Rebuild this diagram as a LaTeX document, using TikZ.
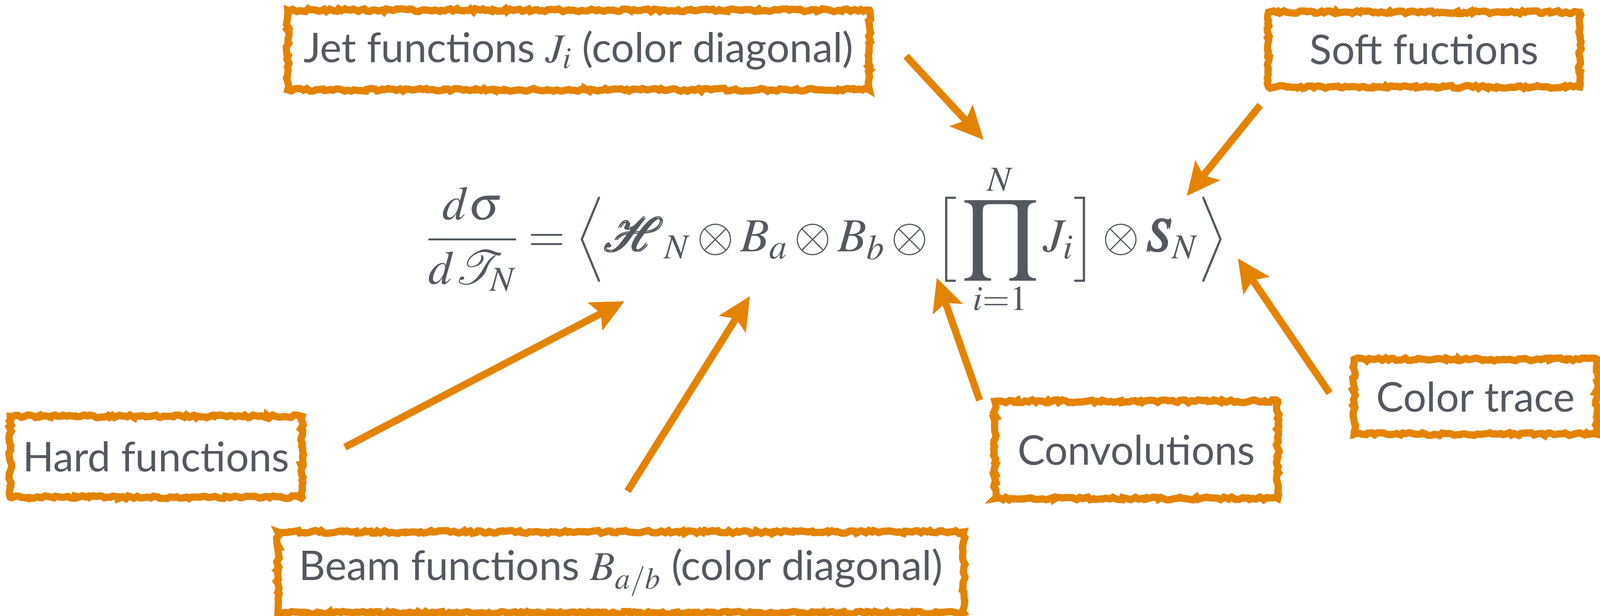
\documentclass[tikz,border=0pt]{standalone}
\usepackage{amsmath}
\usepackage{graphicx}
\usepackage{mathptmx}
\usepackage{bm}
\usepackage[no-math]{fontspec}
\setmainfont{Lato}
\usepackage{tikz}
\usetikzlibrary{positioning,calc}
\usetikzlibrary{arrows.meta,decorations.pathmorphing}
\definecolor{SketchOrange}{RGB}{228,131,0}
\definecolor{InkGray}{RGB}{84,88,95}
\newcommand{\bigprod}{\mathop{\vcenter{\hbox{\scalebox{1.35}{$\displaystyle\prod$}}}}\limits}
\tikzset{
  box/.style={draw=SketchOrange,line width=5pt,inner sep=0pt,text=InkGray,
    font=\fontsize{28.5}{34}\selectfont,
    decorate,decoration={random steps,segment length=2pt,amplitude=1pt}},
  arr/.style={draw=SketchOrange,line width=5pt,
    -{Stealth[length=0.8cm,width=0.75cm,inset=0.15cm]}},
}
\tikzset{formula/.style={text=InkGray,font=\fontsize{33}{40}\selectfont,inner sep=0pt}}

\begin{document}
\begin{tikzpicture}
\useasboundingbox (0,0) rectangle (39.2,15.075);
\node[formula,anchor=base] (xsec) at (20.26,8.92)
  {$\displaystyle \frac{d\sigma}{d\mathcal{T}_N} = \Big\langle \pmb{\mathcal{H}}_N \otimes B_a \otimes B_b \otimes \Big[\bigprod_{i=1}^{N} J_i\Big] \otimes \bm{S}_N \Big\rangle$};
\node[box,minimum width=14.25cm,minimum height=1.95cm] (jet) at (14.175,13.85) {Jet functions $J_i$ (color diagonal)};
\node[box,minimum width=7.625cm,minimum height=1.83cm] (soft) at (34.89,13.86) {Soft fuctions};
\node[box,minimum width=7.15cm,minimum height=1.98cm] (hard) at (3.825,3.89) {Hard functions};
\node[box,minimum width=6.93cm,minimum height=2.38cm] (conv) at (27.84,4.06) {Convolutions};
\node[box,minimum width=5.95cm,minimum height=1.83cm] (trace) at (36.15,5.36) {Color trace};
\node[box,minimum width=16.8cm,minimum height=1.98cm] (beam) at (15.21,1.06) {Beam functions $B_{a/b}$ (color diagonal)};
\coordinate (jetTail) at (22.2,13.7);
\coordinate (jetTip) at (24.1,11.65);
\coordinate (softTail) at (30.875,12.5);
\coordinate (softTip) at (29.075,10.275);
\coordinate (hardTail) at (8.45,4.125);
\coordinate (hardTip) at (15.3,7.7);
\coordinate (beamTail) at (15.375,3.05);
\coordinate (beamTip) at (18.375,7.825);
\coordinate (convTail) at (24.0,5.275);
\coordinate (convTip) at (22.95,8.275);
\coordinate (traceTail) at (32.575,5.45);
\coordinate (traceTip) at (30.325,8.75);
\draw[arr] (jetTail) -- (jetTip);
\draw[arr] (softTail) -- (softTip);
\draw[arr] (hardTail) -- (hardTip);
\draw[arr] (beamTail) -- (beamTip);
\draw[arr] (convTail) -- (convTip);
\draw[arr] (traceTail) -- (traceTip);
\end{tikzpicture}
\end{document}
